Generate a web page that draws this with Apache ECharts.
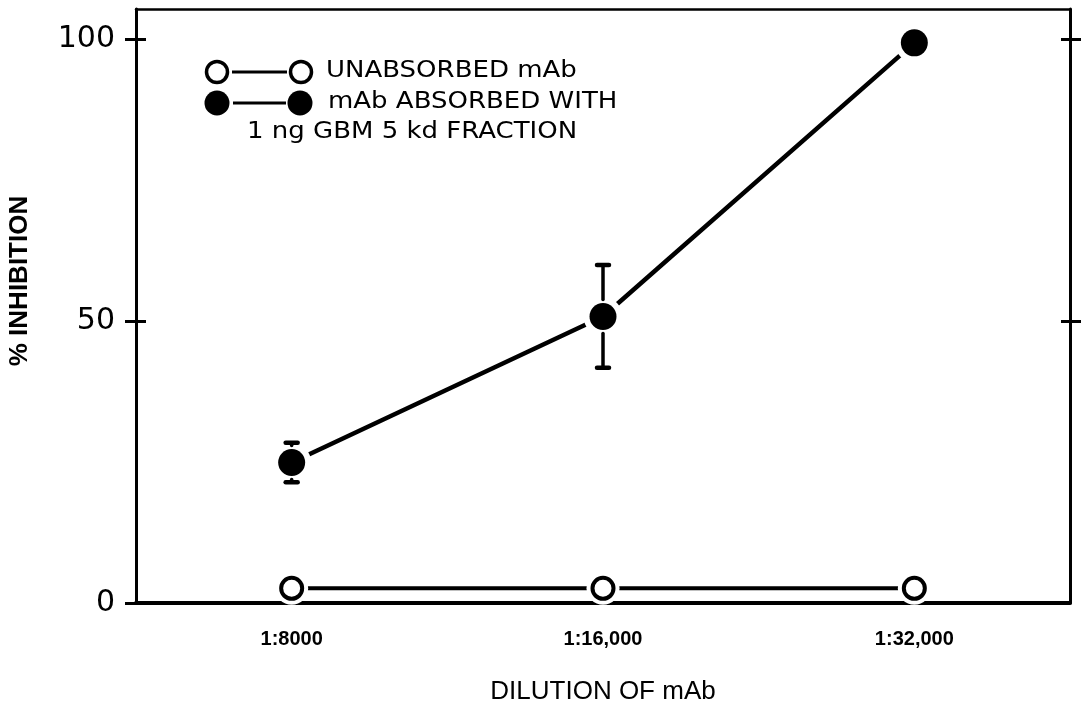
<!DOCTYPE html>
<html>
<head>
<meta charset="utf-8">
<script src="https://cdn.jsdelivr.net/npm/echarts@6/dist/echarts.min.js"></script>
<style>
  html, body { margin: 0; padding: 0; background: #fff; }
  #chart { width: 1084px; height: 705px; }
</style>
</head>
<body>
<div id="chart"></div>
<script>
// Dilution steps of the monoclonal antibody (each step doubles the dilution)
const dilutions = ['1:8000', '1:16,000', '1:32,000'];
// % inhibition, unabsorbed mAb (open circles)
const unabsorbed = [2.6, 2.6, 2.6];
// % inhibition, mAb absorbed with 1 ng GBM 5 kd fraction (filled circles)
const absorbed = [24.9, 50.8, 99.3];
// half-length of the error bars on the absorbed series
const absorbedErr = [3.5, 9.1, 0];
// y-axis tick values
const yTicks = [0, 50, 100];
const yTicksRight = [50, 100];
// legend text
const legendLines = ['UNABSORBED mAb', 'mAb ABSORBED WITH', '1 ng GBM 5 kd FRACTION'];

const xPos = dilutions.map((d, i) => i + 1);
const openPts = unabsorbed.map((v, i) => [xPos[i], v]);
const filledPts = absorbed.map((v, i) => [xPos[i], v]);
const errPts = absorbed.map((v, i) => [xPos[i], v - absorbedErr[i], v + absorbedErr[i], v]);

const INK = '#000';
const X_MIN = 0.5, X_MAX = 3.5, Y_MAX = 105.3;

const chart = echarts.init(document.getElementById('chart'), null, { renderer: 'canvas' });

function plainY(extra) {
  return Object.assign({
    type: 'value', min: 0, max: Y_MAX,
    splitLine: { show: false },
    axisLabel: { show: false },
    axisLine: { show: false, onZero: false }
  }, extra);
}

const option = {
  animation: false,
  backgroundColor: '#fff',
  grid: { left: 136, right: 14, top: 9, bottom: 102, containLabel: false, outerBoundsMode: 'none' },
  xAxis: [
    {
      type: 'value', min: X_MIN, max: X_MAX, position: 'bottom',
      axisLine: { show: true, onZero: false, lineStyle: { color: INK, width: 4 } },
      axisTick: { show: false },
      splitLine: { show: false },
      axisLabel: {
        customValues: xPos,
        formatter: v => dilutions[Math.round(v) - 1],
        fontFamily: 'Liberation Sans', fontWeight: 'bold', fontSize: 20,
        color: INK, margin: 26
      },
      name: 'DILUTION OF mAb', nameLocation: 'middle', nameGap: 76,
      nameTextStyle: { fontFamily: 'Liberation Sans', fontSize: 26, color: INK }
    },
    {
      type: 'value', min: X_MIN, max: X_MAX, position: 'top',
      axisLine: { show: true, onZero: false, lineStyle: { color: INK, width: 2.5 } },
      axisTick: { show: false }, axisLabel: { show: false }, splitLine: { show: false }
    }
  ],
  yAxis: [
    plainY({
      position: 'left',
      axisLine: { show: true, onZero: false, lineStyle: { color: INK, width: 3 } },
      axisTick: { show: true, inside: false, length: 11, customValues: yTicks, lineStyle: { color: INK, width: 3 } },
      axisLabel: { show: true, customValues: yTicks, fontFamily: 'DejaVu Sans', fontSize: 30, color: INK, margin: 21 }
    }),
    plainY({
      position: 'left',
      axisTick: { show: true, inside: true, length: 10, customValues: yTicks, lineStyle: { color: INK, width: 3 } }
    }),
    plainY({
      position: 'right',
      axisLine: { show: true, onZero: false, lineStyle: { color: INK, width: 3 } },
      axisTick: { show: true, inside: false, length: 11, customValues: yTicksRight, lineStyle: { color: INK, width: 3 } }
    }),
    plainY({
      position: 'right',
      axisTick: { show: true, inside: true, length: 9, customValues: yTicksRight, lineStyle: { color: INK, width: 3 } }
    })
  ],
  series: [
    // connecting lines
    { type: 'line', data: openPts, showSymbol: false, z: 2, silent: true,
      lineStyle: { color: INK, width: 4 } },
    { type: 'line', data: filledPts, showSymbol: false, z: 2, silent: true,
      lineStyle: { color: INK, width: 4.5 } },
    // white halos leave a small gap between each line and its marker
    { type: 'scatter', data: openPts, symbol: 'circle', symbolSize: 33, z: 3, silent: true,
      itemStyle: { color: '#fff', opacity: 1 } },
    { type: 'scatter', data: filledPts, symbol: 'circle', symbolSize: 39, z: 3, silent: true,
      itemStyle: { color: '#fff', opacity: 1 } },
    // error bars, broken around the marker
    {
      type: 'custom', data: errPts, z: 4, silent: true,
      encode: { x: 0, y: [1, 2] },
      renderItem(params, api) {
        const x = api.value(0), lo = api.value(1), hi = api.value(2), mid = api.value(3);
        if (hi === lo) return null;
        const top = api.coord([x, hi]), bot = api.coord([x, lo]), c = api.coord([x, mid]);
        const gap = 17, cap = 6;
        const style = { stroke: INK, lineWidth: 3.5, lineCap: 'round' };
        const kids = [
          { type: 'line', shape: { x1: top[0] - cap, y1: top[1], x2: top[0] + cap, y2: top[1] }, style: Object.assign({}, style, { lineWidth: 4.5 }) },
          { type: 'line', shape: { x1: bot[0] - cap, y1: bot[1], x2: bot[0] + cap, y2: bot[1] }, style: Object.assign({}, style, { lineWidth: 4.5 }) }
        ];
        if (c[1] - gap > top[1] + 2) kids.push({ type: 'line', shape: { x1: top[0], y1: top[1], x2: top[0], y2: c[1] - gap }, style });
        if (c[1] + gap < bot[1] - 2) kids.push({ type: 'line', shape: { x1: bot[0], y1: c[1] + gap, x2: bot[0], y2: bot[1] }, style });
        return { type: 'group', children: kids };
      }
    },
    // markers
    { type: 'scatter', data: openPts, symbol: 'circle', symbolSize: 21, z: 5, silent: true,
      itemStyle: { color: '#fff', borderColor: INK, borderWidth: 4, opacity: 1 } },
    { type: 'scatter', data: filledPts, symbol: 'circle', symbolSize: 27, z: 5, silent: true,
      itemStyle: { color: INK, opacity: 1 } }
  ],
  graphic: [
    // y-axis title
    { type: 'text', x: 20, y: 281, rotation: Math.PI / 2, silent: true,
      style: { text: '% INHIBITION', font: 'bold 26px "Liberation Sans"', fill: INK, align: 'center', verticalAlign: 'middle' } },
    // legend, row 1
    { type: 'circle', shape: { cx: 217, cy: 72, r: 10.5 }, style: { fill: '#fff', stroke: INK, lineWidth: 3.5 } },
    { type: 'line', shape: { x1: 232, y1: 72, x2: 287, y2: 72 }, style: { stroke: INK, lineWidth: 3 } },
    { type: 'circle', shape: { cx: 301, cy: 72, r: 10.5 }, style: { fill: '#fff', stroke: INK, lineWidth: 3.5 } },
    { type: 'text', x: 326, y: 71, scaleX: 1.13, silent: true,
      style: { text: legendLines[0], font: '23px "DejaVu Sans"', fill: INK, align: 'left', verticalAlign: 'middle' } },
    // legend, row 2
    { type: 'circle', shape: { cx: 217, cy: 103, r: 12.5 }, style: { fill: INK } },
    { type: 'line', shape: { x1: 233, y1: 103, x2: 286, y2: 103 }, style: { stroke: INK, lineWidth: 3 } },
    { type: 'circle', shape: { cx: 300, cy: 103, r: 12.5 }, style: { fill: INK } },
    { type: 'text', x: 328, y: 102, scaleX: 1.13, silent: true,
      style: { text: legendLines[1], font: '23px "DejaVu Sans"', fill: INK, align: 'left', verticalAlign: 'middle' } },
    // legend, row 3
    { type: 'text', x: 247, y: 132, scaleX: 1.13, silent: true,
      style: { text: legendLines[2], font: '23px "DejaVu Sans"', fill: INK, align: 'left', verticalAlign: 'middle' } }
  ]
};

chart.setOption(option);
</script>
</body>
</html>
